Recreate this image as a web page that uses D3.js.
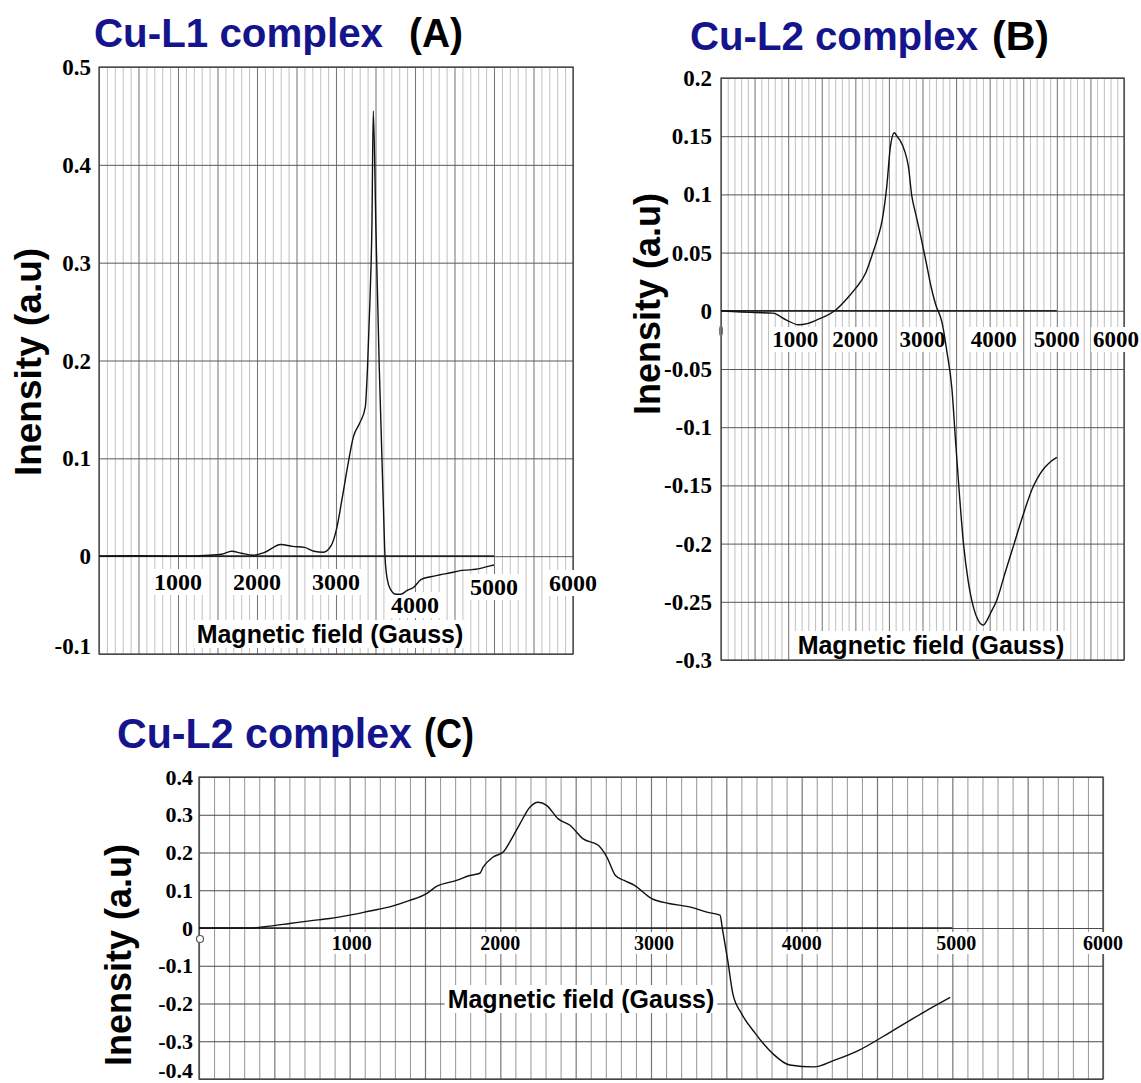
<!DOCTYPE html>
<html>
<head>
<meta charset="utf-8">
<script src="https://cdn.jsdelivr.net/npm/d3@7"></script>
<style>
  html, body { margin: 0; padding: 0; background: #fff; }
  svg { display: block; }
  .num { font-family: "Liberation Serif", "Times New Roman", serif; font-weight: bold; fill: #000; }
  .sans { font-family: "Liberation Sans", Arial, sans-serif; font-weight: bold; }
</style>
</head>
<body>
<svg id="chart" width="1141" height="1083"></svg>
<script>
// tick labels
var fieldTicks = [1000, 2000, 3000, 4000, 5000, 6000];
var yTicksA = [-0.1, 0, 0.1, 0.2, 0.3, 0.4, 0.5];
var yTicksB = [-0.3, -0.25, -0.2, -0.15, -0.1, -0.05, 0, 0.05, 0.1, 0.15, 0.2];
var yTicksC = [-0.4, -0.3, -0.2, -0.1, 0, 0.1, 0.2, 0.3, 0.4];

// (A) Cu-L1 complex
var fieldA = [0, 500, 1000, 1400, 1550, 1680, 1800, 1950, 2100, 2300, 2450, 2600, 2720, 2840, 2940,
    3010, 3080, 3150, 3220, 3300, 3370, 3400, 3430, 3455, 3472, 3506, 3548, 3600, 3620, 3650,
    3690, 3760, 3820, 3900, 3980, 4075, 4200, 4316, 4450, 4558, 4680, 4800, 4900, 5000];
var intensityA = [0, 0.0005, 0, 0.001, 0.002, 0.005, 0.003, 0.001, 0.004, 0.012, 0.010, 0.009, 0.005, 0.004, 0.011,
    0.029, 0.060, 0.093, 0.122, 0.136, 0.152, 0.195, 0.262, 0.340, 0.455, 0.332, 0.192, 0.051, 0, -0.024,
    -0.034, -0.039, -0.039, -0.035, -0.032, -0.024, -0.021, -0.019, -0.017, -0.015, -0.014, -0.013, -0.011, -0.009];

// (B) Cu-L2 complex
var fieldB = [0, 300, 514, 770, 975, 1155, 1283, 1420, 1541, 1694, 1900, 2000, 2150, 2250, 2330, 2400,
    2470, 2520, 2580, 2620, 2670, 2730, 2790, 2840, 2900, 2970, 3050, 3130, 3210, 3260, 3290, 3363,
    3438, 3490, 3550, 3610, 3680, 3760, 3830, 3905, 3960, 4010, 4110, 4230, 4365, 4500, 4648, 4750,
    4830, 4920, 5000];
var intensityB = [0, -0.001, -0.0015, -0.002, -0.008, -0.012, -0.011, -0.008, -0.005, 0, 0.012, 0.019, 0.032, 0.048, 0.062, 0.078,
    0.108, 0.140, 0.153, 0.150, 0.146, 0.138, 0.124, 0.099, 0.083, 0.065, 0.043, 0.020, 0.003, -0.004, -0.010, -0.035,
    -0.067, -0.110, -0.158, -0.200, -0.232, -0.255, -0.266, -0.270, -0.266, -0.260, -0.248, -0.225, -0.200, -0.175, -0.151, -0.140,
    -0.134, -0.129, -0.126];

// (C) Cu-L2 complex
var fieldC = [0, 337, 469, 602, 735, 868, 1001, 1134, 1266, 1399, 1510, 1576, 1709, 1797, 1864, 1886,
    1952, 2019, 2063, 2130, 2196, 2251, 2307, 2384, 2462, 2550, 2650, 2707, 2764, 2822, 2890, 3005,
    3119, 3256, 3371, 3458, 3474, 3509, 3543, 3600, 3692, 3806, 3921, 4081, 4219, 4379, 4608, 4815, 4986];
var intensityC = [0, 0, 0.005, 0.012, 0.019, 0.025, 0.034, 0.045, 0.056, 0.073, 0.091, 0.110, 0.126, 0.139, 0.145, 0.161,
    0.188, 0.201, 0.228, 0.276, 0.320, 0.333, 0.325, 0.289, 0.272, 0.236, 0.219, 0.188, 0.139, 0.126, 0.113, 0.078,
    0.065, 0.056, 0.042, 0.034, -0.002, -0.085, -0.174, -0.226, -0.279, -0.332, -0.363, -0.368, -0.350, -0.324, -0.271, -0.222, -0.184];

var NAVY = '#14148c';
var svg = d3.select('#chart');

var panels = [
    {
        field: fieldA, intensity: intensityA, yTicks: yTicksA, yDomain: [-0.1, 0.5],
        left: 99, right: 573, top: 67, bottom: 654,
        minorGrid: '#adadad', majorGrid: '#5a5a5a', minorWidth: 0.75,
        tickFont: 24, yFont: 23, tickY: 590, tickShift: {4000: 23, 5000: 5, 6000: 1}, tickShiftX: {},
        yLabelRight: 91, yLabelShift: {'-0.1': -8},
        xTitle: {x: 330, y: 643}, yTitle: {x: 28, y: 362, size: 37},
        title: {y: 47, size: 40, parts: [['Cu-L1 complex', 94, 289, NAVY], ['(A)', 409, 54, '#000']]}
    },
    {
        field: fieldB, intensity: intensityB, yTicks: yTicksB, yDomain: [-0.3, 0.2],
        left: 721, right: 1124, top: 78, bottom: 660,
        minorGrid: '#aaaaaa', majorGrid: '#555', minorWidth: 0.75,
        tickFont: 23, yFont: 23, tickY: 347, tickShift: {}, tickShiftX: {1000: 7, 4000: 4, 6000: -8},
        yLabelRight: 712, yLabelShift: {},
        xTitle: {x: 931, y: 654}, yTitle: {x: 647, y: 304, size: 36},
        origin: true,
        title: {y: 50, size: 40, parts: [['Cu-L2 complex', 690, 288, NAVY], ['(B)', 992, 57, '#000']]}
    },
    {
        field: fieldC, intensity: intensityC, yTicks: yTicksC, yDomain: [-0.4, 0.4],
        left: 199, right: 1103, top: 777, bottom: 1079,
        minorGrid: '#8a8a8a', majorGrid: '#4a4a4a', minorWidth: 0.9,
        tickFont: 20, yFont: 22, tickY: 950, tickShift: {}, tickShiftX: {1000: 2, 3000: 3, 5000: 4},
        yLabelRight: 193, yLabelShift: {'-0.4': -9},
        xTitle: {x: 581, y: 1008}, yTitle: {x: 118, y: 955, size: 36},
        originCircle: true,
        title: {y: 748, size: 42, parts: [['Cu-L2 complex', 117, 295, NAVY], ['(C)', 424, 50, '#000']]}
    }
];

function withWhiteBox(g, textSel, pad) {
    var bb = textSel.node().getBBox();
    g.insert('rect', function () { return textSel.node(); })
        .attr('x', bb.x - pad).attr('y', bb.y)
        .attr('width', bb.width + 2 * pad).attr('height', bb.height)
        .attr('fill', '#fff');
}

function drawPanel(p) {
    var g = svg.append('g');
    var x = d3.scaleLinear().domain([0, 6000]).range([p.left, p.right]);
    var y = d3.scaleLinear().domain(p.yDomain).range([p.bottom, p.top]);
    var h = p.bottom - p.top, w = p.right - p.left;

    // dense vertical chart-paper grid, one line per 100 G
    var vGrid = g.append('g')
        .attr('transform', 'translate(0,' + p.bottom + ')')
        .call(d3.axisBottom(x).tickValues(d3.range(0, 6001, 100)).tickSize(-h).tickFormat(''));
    vGrid.select('.domain').remove();
    vGrid.selectAll('line')
        .attr('stroke', function (d) { return d % 500 === 0 ? '#777' : p.minorGrid; })
        .attr('stroke-width', function (d) { return d % 500 === 0 ? p.minorWidth + 0.3 : p.minorWidth; });

    // horizontal grid at the labelled intensities
    var hGrid = g.append('g')
        .attr('transform', 'translate(' + p.left + ',0)')
        .call(d3.axisLeft(y).tickValues(p.yTicks).tickSize(-w).tickFormat(''));
    hGrid.select('.domain').remove();
    hGrid.selectAll('line').attr('stroke', p.majorGrid).attr('stroke-width', 1);

    g.append('rect')
        .attr('x', p.left).attr('y', p.top).attr('width', w).attr('height', h)
        .attr('fill', 'none').attr('stroke', '#444').attr('stroke-width', 1.3);

    // darker zero baseline of the recorder
    g.append('line')
        .attr('x1', x(0)).attr('x2', x(5000)).attr('y1', y(0)).attr('y2', y(0))
        .attr('stroke', '#222').attr('stroke-width', 1.6);

    // y tick labels
    g.selectAll('text.ylab')
        .data(p.yTicks)
        .enter().append('text')
        .attr('class', 'num ylab')
        .attr('x', p.yLabelRight)
        .attr('y', function (d) { return y(d) + (p.yLabelShift[String(d)] || 0); })
        .attr('dy', '0.35em')
        .attr('text-anchor', 'end')
        .style('font-size', p.yFont + 'px')
        .text(function (d) { return String(d); });

    // x tick labels on white patches
    fieldTicks.forEach(function (v) {
        var t = g.append('text')
            .attr('class', 'num')
            .attr('x', x(v) + (p.tickShiftX[v] || 0))
            .attr('y', p.tickY + (p.tickShift[v] || 0))
            .attr('text-anchor', 'middle')
            .style('font-size', p.tickFont + 'px')
            .text(v);
        withWhiteBox(g, t, 2);
    });

    var xt = g.append('text')
        .attr('class', 'sans')
        .attr('x', p.xTitle.x).attr('y', p.xTitle.y)
        .attr('text-anchor', 'middle')
        .style('font-size', '25px')
        .attr('fill', '#000')
        .text('Magnetic field (Gauss)');
    withWhiteBox(g, xt, 3);

    g.append('text')
        .attr('class', 'sans')
        .attr('transform', 'translate(' + p.yTitle.x + ',' + p.yTitle.y + ') rotate(-90)')
        .attr('text-anchor', 'middle')
        .attr('dy', '0.35em')
        .style('font-size', p.yTitle.size + 'px')
        .attr('fill', '#000')
        .text('Inensity (a.u)');

    p.title.parts.forEach(function (part) {
        g.append('text')
            .attr('class', 'sans')
            .attr('x', part[1]).attr('y', p.title.y)
            .attr('textLength', part[2])
            .attr('lengthAdjust', 'spacingAndGlyphs')
            .style('font-size', p.title.size + 'px')
            .attr('fill', part[3])
            .text(part[0]);
    });

    if (p.origin) {
        g.append('ellipse')
            .attr('cx', x(0)).attr('cy', y(0) + 20).attr('rx', 1.5).attr('ry', 5)
            .attr('fill', 'none').attr('stroke', '#777').attr('stroke-width', 1.2);
    }
    if (p.originCircle) {
        g.append('circle')
            .attr('cx', x(0) + 1).attr('cy', y(0) + 11).attr('r', 3.5)
            .attr('fill', '#fff').attr('stroke', '#555').attr('stroke-width', 1.2);
    }

    // the trace goes on top of everything so label patches never hide it
    var pts = p.field.map(function (f, i) { return [f, p.intensity[i]]; });
    g.append('path')
        .datum(pts)
        .attr('fill', 'none')
        .attr('stroke', '#111')
        .attr('stroke-width', 1.4)
        .attr('stroke-linejoin', 'round')
        .attr('d', d3.line().x(function (d) { return x(d[0]); }).y(function (d) { return y(d[1]); })
            .curve(d3.curveMonotoneX));
}

panels.forEach(drawPanel);
</script>
</body>
</html>
